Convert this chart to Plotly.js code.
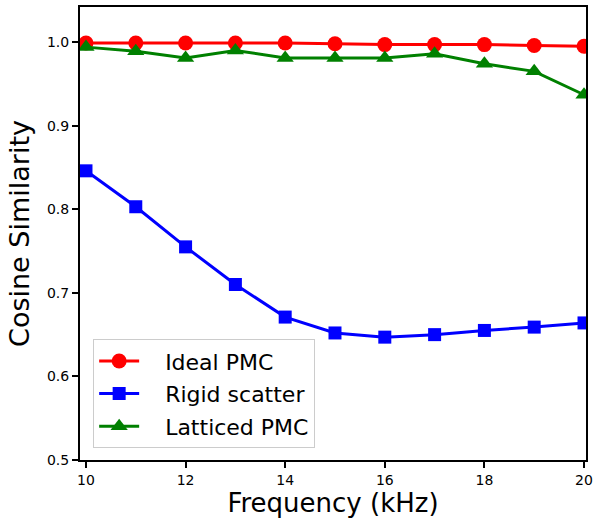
<!DOCTYPE html>
<html><head><meta charset="utf-8">
<script src="https://cdn.plot.ly/plotly-3.0.1.min.js"></script>
<style>body{margin:0;padding:0;background:#fff}#chart{width:598px;height:518px}</style>
</head><body><div id="chart"></div>
<script>
const freq = [10,11,12,13,14,15,16,17,18,19,20];
const idealPMC = [0.999,0.999,0.999,0.999,0.999,0.998,0.997,0.997,0.997,0.996,0.995];
const rigidScatter = [0.846,0.803,0.755,0.710,0.671,0.652,0.647,0.650,0.655,0.659,0.664];
const latticedPMC = [0.994,0.989,0.981,0.990,0.981,0.981,0.981,0.986,0.974,0.965,0.937];
const seriesNames = ['Ideal PMC','Rigid scatter','Latticed PMC'];
const xTicks = [10,12,14,16,18,20];
const yTicks = [0.5,0.6,0.7,0.8,0.9,1.0];
const yTickText = ['0.5','0.6','0.7','0.8','0.9','1.0'];
const pad = '\u00a0\u00a0\u00a0';

const traces = [
 {x:freq,y:idealPMC,name:pad+seriesNames[0],legendgroup:'a',mode:'lines+markers',line:{color:'#ff0000',width:3},marker:{symbol:'circle',size:15,color:'#ff0000'}},
 {x:freq,y:rigidScatter,name:pad+seriesNames[1],legendgroup:'b',mode:'lines+markers',line:{color:'#0000ff',width:3},marker:{symbol:'square',size:13,color:'#0000ff'}},
 {x:freq,y:latticedPMC,name:pad+seriesNames[2],legendgroup:'c',mode:'lines+markers',line:{color:'#008000',width:3},marker:{symbol:'triangle-up',size:15,color:'#008000'}}
];
const layout = {
 width:598,height:518,
 margin:{l:80,r:12,t:7,b:58},
 paper_bgcolor:'#fff',plot_bgcolor:'#fff',
 font:{family:'DejaVu Sans',color:'#000'},
 showlegend:true,
 legend:{x:0.026,y:0.026,xanchor:'left',yanchor:'bottom',bgcolor:'rgba(255,255,255,0.8)',bordercolor:'#cccccc',borderwidth:1,font:{size:22,family:'DejaVu Sans'},tracegroupgap:1,itemwidth:40},
 xaxis:{range:[9.88,20.04],tickvals:xTicks,ticktext:xTicks.map(String),showgrid:false,zeroline:false,showline:true,linecolor:'#000',linewidth:2,mirror:true,ticks:'outside',ticklen:6,tickwidth:2,tickcolor:'#000',tickfont:{size:14},title:{text:'Frequency (kHz)',font:{size:26},standoff:7}},
 yaxis:{range:[0.5,1.042],tickvals:yTicks,ticktext:yTickText,showgrid:false,zeroline:false,showline:true,linecolor:'#000',linewidth:2,mirror:true,ticks:'outside',ticklen:6,tickwidth:2,tickcolor:'#000',tickfont:{size:14},title:{text:'Cosine Similarity',font:{size:27},standoff:9}}
};
Plotly.newPlot('chart',traces,layout,{displayModeBar:false,staticPlot:true});
</script></body></html>
